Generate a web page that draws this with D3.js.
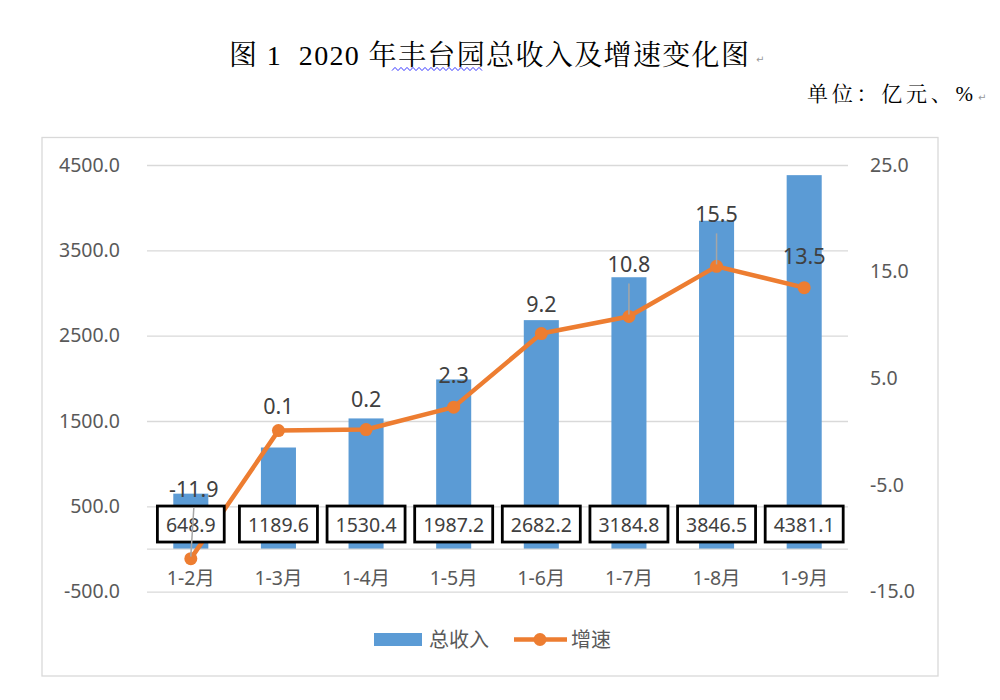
<!DOCTYPE html>
<html>
<head>
<meta charset="utf-8">
<script src="https://cdn.jsdelivr.net/npm/d3@7"></script>
<style>
  html, body { margin: 0; padding: 0; background: #fff; }
  svg { display: block; }
</style>
</head>
<body>
<svg id="chart" width="1000" height="700"></svg>
<script>
// ---- data ----
const categories = ["1-2月", "1-3月", "1-4月", "1-5月", "1-6月", "1-7月", "1-8月", "1-9月"];
const revenue = [648.9, 1189.6, 1530.4, 1987.2, 2682.2, 3184.8, 3846.5, 4381.1];
const growth = [-11.9, 0.1, 0.2, 2.3, 9.2, 10.8, 15.5, 13.5];
const leftTicks = [-500, 500, 1500, 2500, 3500, 4500];
const rightTicks = [-15, -5, 5, 15, 25];
const seriesNames = ["总收入", "增速"];
const titleText = "图 1\u00A0\u00A02020 年丰台园总收入及增速变化图";
const unitText = "单位：亿元、%";

// ---- layout (not data) ----
const labelLift = [62, 17, 23, 24, 22, 44, 44, 24];
const labelShiftX = [3, 0, 0, 0, 0, 0, 0, 0];
const hasLeader = [true, false, false, false, false, true, true, false];

const BLUE = "#5B9BD5", ORANGE = "#ED7D31", GRID = "#D9D9D9";
const NUMFONT = "'Noto Sans', 'Noto Sans CJK SC', sans-serif";
const fmt = d3.formatLocale({ decimal: ".", thousands: ",", grouping: [3], currency: ["", ""], minus: "-" }).format(".1f");

const svg = d3.select("#chart");

// title
svg.append("text")
  .attr("x", 229).attr("y", 65)
  .attr("textLength", 520).attr("lengthAdjust", "spacing")
  .style("font-family", "'Liberation Serif', 'Noto Serif CJK SC', 'Noto Sans CJK SC', serif")
  .style("font-size", "28px").style("fill", "#000")
  .text(titleText);
svg.append("text").attr("x", 756).attr("y", 63)
  .style("font-family", "'DejaVu Sans', sans-serif").style("font-size", "10px").style("fill", "#999")
  .text("↵");
// wavy spell-check underline under 丰台园
{
  const pts = [];
  for (let x = 392, i = 0; x <= 482; x += 3, i++) pts.push([x, 69 + (i % 2 ? -1.6 : 1.6)]);
  svg.append("path").attr("d", d3.line()(pts)).attr("fill", "none")
    .attr("stroke", "#3b3bff").attr("stroke-width", 1);
}
// unit
svg.append("text")
  .attr("x", 807).attr("y", 101)
  .attr("textLength", 166).attr("lengthAdjust", "spacing")
  .style("font-family", "'Liberation Serif', 'Noto Serif CJK SC', 'Noto Sans CJK SC', serif")
  .style("font-size", "21px").style("fill", "#000")
  .text(unitText);
svg.append("text").attr("x", 978).attr("y", 101)
  .style("font-family", "'DejaVu Sans', sans-serif").style("font-size", "10px").style("fill", "#999")
  .text("↵");

// chart frame
svg.append("rect").attr("x", 42).attr("y", 137.5).attr("width", 896).attr("height", 538.5)
  .attr("fill", "#fff").attr("stroke", GRID).attr("stroke-width", 1.3);

const plotL = 147, plotR = 848, plotT = 165, plotB = 591.7;
const x = d3.scaleBand().domain(categories).range([plotL, plotR]).paddingInner(0.6).paddingOuter(0.3);
const yL = d3.scaleLinear().domain([-500, 4500]).range([plotB, plotT]);
const yR = d3.scaleLinear().domain([-15, 25]).range([plotB, plotT]);

// gridlines
const grid = svg.append("g").attr("transform", `translate(${plotL},0)`)
  .call(d3.axisLeft(yL).tickValues(leftTicks).tickSize(-(plotR - plotL)).tickFormat(""));
grid.select(".domain").remove();
grid.selectAll("line").attr("stroke", GRID).attr("stroke-width", 1.3);

// left axis labels
const axL = svg.append("g").attr("transform", `translate(${plotL},0)`)
  .call(d3.axisLeft(yL).tickValues(leftTicks).tickSize(0).tickPadding(27).tickFormat(fmt));
axL.select(".domain").remove();
axL.selectAll("text").style("font-family", NUMFONT).style("font-size", "19.5px").style("fill", "#595959");

// right axis labels
const axR = svg.append("g").attr("transform", `translate(${plotR},0)`)
  .call(d3.axisRight(yR).tickValues(rightTicks).tickSize(0).tickPadding(22).tickFormat(fmt));
axR.select(".domain").remove();
axR.selectAll("text").style("font-family", NUMFONT).style("font-size", "19.5px").style("fill", "#595959");

// bars
svg.append("g").selectAll("rect").data(revenue).join("rect")
  .attr("x", (d, i) => x(categories[i]))
  .attr("width", x.bandwidth())
  .attr("y", d => yL(Math.max(0, d)))
  .attr("height", d => Math.abs(yL(d) - yL(0)))
  .attr("fill", BLUE);

// zero axis line
svg.append("line").attr("x1", plotL).attr("x2", plotR).attr("y1", yL(0)).attr("y2", yL(0))
  .attr("stroke", GRID).attr("stroke-width", 1.3);

// category labels
const axB = svg.append("g").attr("transform", `translate(0,${yL(0)})`)
  .call(d3.axisBottom(x).tickSize(0).tickPadding(0));
axB.select(".domain").remove();
axB.selectAll("text").attr("y", 36).attr("dy", 0)
  .style("font-family", NUMFONT).style("font-size", "19.5px").style("fill", "#595959");

// line
const cx = (i) => x(categories[i]) + x.bandwidth() / 2;
svg.append("path").datum(growth)
  .attr("d", d3.line().x((d, i) => cx(i)).y(d => yR(d)))
  .attr("fill", "none").attr("stroke", ORANGE).attr("stroke-width", 4.5).attr("stroke-linejoin", "round");
svg.append("g").selectAll("circle").data(growth).join("circle")
  .attr("cx", (d, i) => cx(i)).attr("cy", d => yR(d)).attr("r", 6.5).attr("fill", ORANGE);

// bar value labels (boxed)
const bl = svg.append("g");
revenue.forEach((v, i) => {
  const g = bl.append("g");
  const t = g.append("text")
    .attr("x", cx(i)).attr("y", yL(0) - 17.5)
    .attr("text-anchor", "middle")
    .style("font-family", NUMFONT).style("font-size", "19.5px").style("fill", "#404040")
    .text(fmt(v));
  const w = t.node().getComputedTextLength() + 17;
  g.insert("rect", "text")
    .attr("x", cx(i) - w / 2).attr("y", yL(0) - 43).attr("width", w).attr("height", 36)
    .attr("fill", "#fff").attr("stroke", "#000").attr("stroke-width", 2.8);
});

// leader lines
growth.forEach((v, i) => {
  if (!hasLeader[i]) return;
  const by = yR(v) - labelLift[i];
  svg.append("line")
    .attr("x1", cx(i) + labelShiftX[i]).attr("y1", by + 11)
    .attr("x2", cx(i)).attr("y2", yR(v) - 2)
    .attr("stroke", "#A6A6A6").attr("stroke-width", 1.5);
});

// line value labels
svg.append("g").selectAll("text").data(growth).join("text")
  .attr("x", (d, i) => cx(i) + labelShiftX[i])
  .attr("y", (d, i) => yR(d) - labelLift[i])
  .attr("text-anchor", "middle")
  .style("font-family", NUMFONT).style("font-size", "21.5px").style("fill", "#404040")
  .text(d => fmt(d));

// legend
const lg = svg.append("g");
lg.append("rect").attr("x", 374).attr("y", 633).attr("width", 48).attr("height", 13).attr("fill", BLUE);
lg.append("text").attr("x", 429).attr("y", 647)
  .style("font-family", "'Noto Sans CJK SC', sans-serif").style("font-size", "20px").style("fill", "#595959")
  .text(seriesNames[0]);
lg.append("line").attr("x1", 514).attr("x2", 567).attr("y1", 639.5).attr("y2", 639.5)
  .attr("stroke", ORANGE).attr("stroke-width", 4.5);
lg.append("circle").attr("cx", 540).attr("cy", 639.5).attr("r", 6.5).attr("fill", ORANGE);
lg.append("text").attr("x", 571).attr("y", 647)
  .style("font-family", "'Noto Sans CJK SC', sans-serif").style("font-size", "20px").style("fill", "#595959")
  .text(seriesNames[1]);
</script>
</body>
</html>
